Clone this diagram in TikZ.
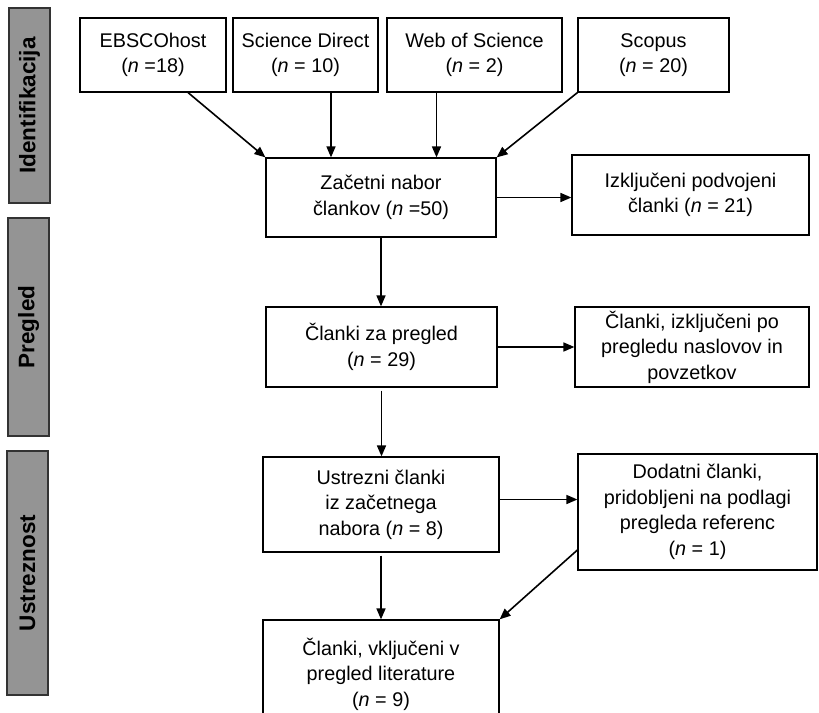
\documentclass[tikz,border=0pt]{standalone}
\usepackage{fontspec}
\setmainfont{Liberation Sans}
\usetikzlibrary{arrows.meta}

\begin{document}
\begin{tikzpicture}[
            x=1pt, y=-1pt,
            box/.style={rectangle,draw=black,line width=1.2pt,fill=white,align=center,inner sep=0pt,
                font=\fontsize{19.8}{25.5}\selectfont},
            bar/.style={rectangle,draw=black!80,line width=1.2pt,fill=black!42,rotate=90,inner sep=0pt,
                minimum height=41pt,font=\fontsize{22.5}{26}\selectfont\bfseries},
            arr/.style={line width=1.6pt,-{Triangle[length=11pt,width=9pt]}},
            ]
            \useasboundingbox (0,0) rectangle (819,712);

            % phases
            \node[bar, minimum width=195pt] (ident) at (29.5,105.5) {Identifikacija};
            \node[bar, minimum width=218pt] (pregl) at (28.5,327) {Pregled};
            \node[bar, minimum width=244pt] (ustrz) at (27.5,573) {Ustreznost};

            % sources
            \node[box, minimum width=146pt, minimum height=74pt] (ebsco) at (153,55) {EBSCOhost\\(\textit{n} =18)};
            \node[box, minimum width=145pt, minimum height=74pt] (sd) at (305.5,55) {Science Direct\\(\textit{n} = 10)};
            \node[box, minimum width=175pt, minimum height=74pt] (wos) at (474.5,55) {Web of Science\\(\textit{n} = 2)};
            \node[box, minimum width=151pt, minimum height=74pt] (scopus) at (653.5,55) {Scopus\\(\textit{n} = 20)};

            % main column
            \node[box, minimum width=230pt, minimum height=79pt] (nabor) at (381,197.5) {Začetni nabor\\člankov (\textit{n} =50)};
            \node[box, minimum width=231pt, minimum height=80pt] (pregled) at (381.5,347) {Članki za pregled\\(\textit{n} = 29)};
            \node[box, minimum width=236pt, minimum height=95pt] (ustr) at (381,504.5) {Ustrezni članki\\iz začetnega\\nabora (\textit{n} = 8)};
            \node[box, minimum width=236pt, minimum height=108pt] (vklj) at (381,674) {Članki, vključeni v\\pregled literature\\(\textit{n} = 9)};

            % right column
            \node[box, minimum width=237pt, minimum height=80pt] (dupl) at (690.5,195) {Izključeni podvojeni\\članki (\textit{n} = 21)};
            \node[box, minimum width=234pt, minimum height=80pt] (izkl) at (692,347) {Članki, izključeni po\\pregledu naslovov in\\povzetkov};
            \node[box, minimum width=239pt, minimum height=116pt] (dodat) at (697.5,512) {Dodatni članki,\\pridobljeni na podlagi\\pregleda referenc\\(\textit{n} = 1)};

            \draw[arr] (ebsco.-47) -- (nabor.north west);
            \draw[arr] ([xshift=25.5pt]sd.south) -- ([xshift=25.5pt]sd.south |- nabor.north);
            \draw[arr] ([xshift=-38pt]wos.south) -- ([xshift=-38pt]wos.south |- nabor.north);
            \draw[arr] (scopus.south west) -- (nabor.north east);
            \draw[arr] (nabor.east) -- (nabor.east -| dupl.west);
            \draw[arr] (nabor.south) -- (nabor.south |- pregled.north);
            \draw[arr] (pregled.east) -- (izkl.west);
            \draw[arr, shorten <=3pt] (pregled.south) -- (pregled.south |- ustr.north);
            \draw[arr] ([yshift=5pt]ustr.east) -- ([yshift=5pt]ustr.east -| dodat.west);
            \draw[arr, shorten <=3pt] (ustr.south) -- (vklj.north);
            \draw[arr] ([yshift=-38pt]dodat.west) -- (vklj.north east);
        \end{tikzpicture}
\end{document}
